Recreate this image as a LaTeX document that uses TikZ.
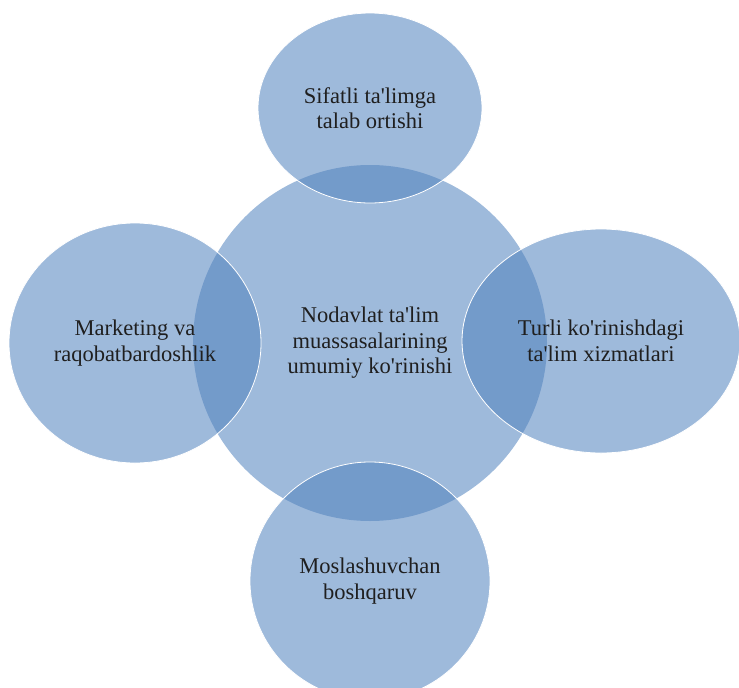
\documentclass[tikz,border=0pt]{standalone}
\usepackage{fontspec}
\setmainfont{Liberation Serif}[Ligatures=TeXOff]
\usepackage{tikz}
\usetikzlibrary{shapes.geometric,positioning}
\definecolor{vennblue}{RGB}{79,129,189}

\begin{document}
\begin{tikzpicture}[x=1pt,y=-1pt,
    bubble/.style={ellipse, fill=vennblue, fill opacity=0.55, text opacity=1, inner sep=0pt,
        align=center, text=black!88, font=\fontsize{22.5}{25.5}\selectfont},
    outer/.style={bubble, draw=white, line width=0.8pt}]
    \useasboundingbox (0,0) rectangle (739,688);
    \clip (0,0) rectangle (739,688);
    \node[bubble, minimum width=354pt, minimum height=356pt] (core) at (370,343) {Nodavlat ta'lim\\muassasalarining\\umumiy ko'rinishi};
    \node[outer, minimum width=224pt, minimum height=190pt] (demand) at (370,108) {Sifatli ta'limga\\talab ortishi};
    \node[outer, minimum width=252pt, minimum height=240pt] (market) at (135,343) {Marketing va\\raqobatbardoshlik};
    \node[outer, minimum width=278pt, minimum height=224pt] (services) at (601,341) {Turli ko'rinishdagi\\ta'lim xizmatlari};
    \node[outer, minimum width=240pt, minimum height=238pt] (manage) at (370,581) {Moslashuvchan\\boshqaruv};
\end{tikzpicture}
\end{document}
